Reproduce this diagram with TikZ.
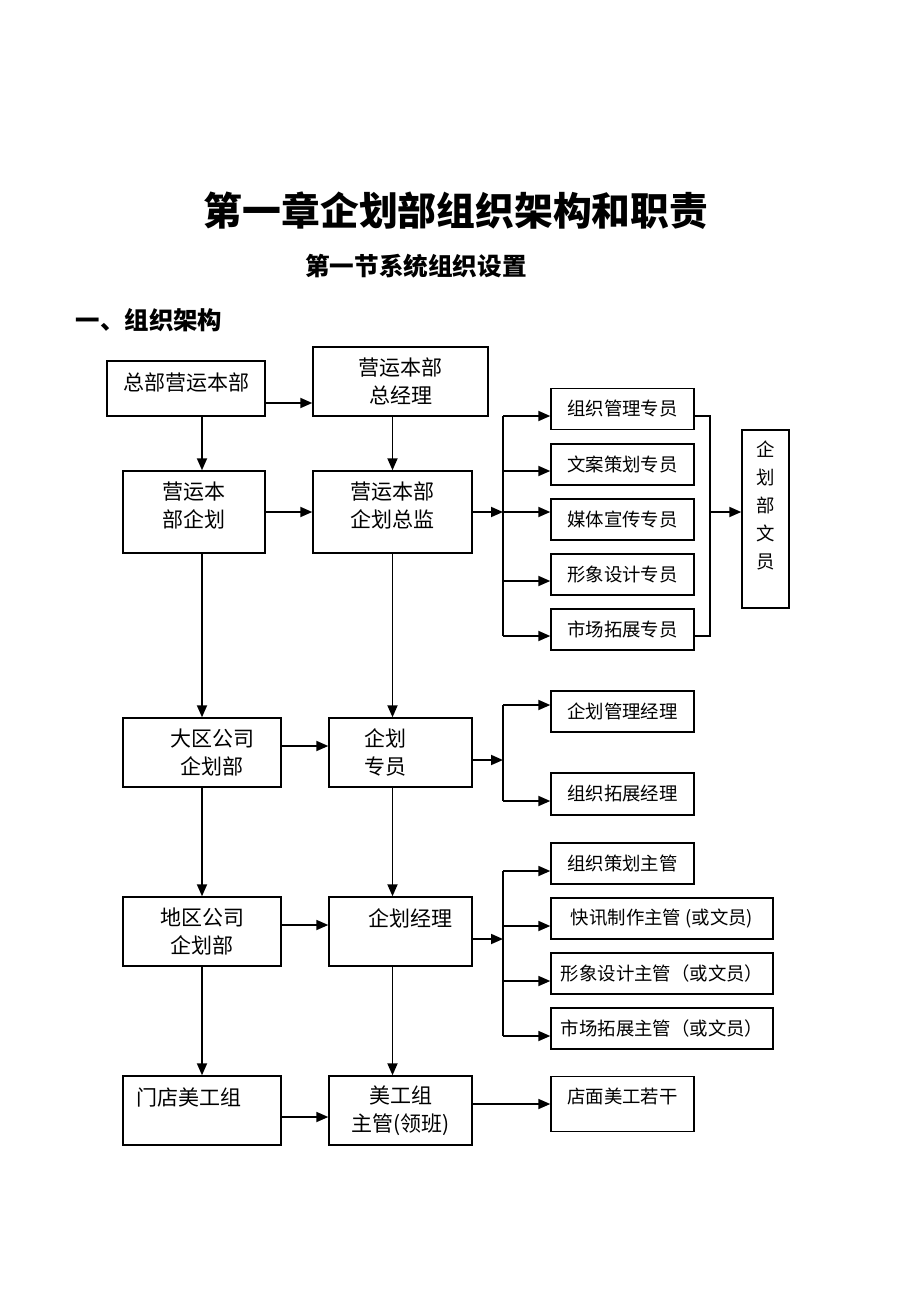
\documentclass[tikz,border=0pt]{standalone}
\usepackage{fontspec}
\setmainfont{Noto Sans CJK SC}
\usetikzlibrary{arrows.meta}

\tikzset{
  box/.style={draw, line width=0.7pt, inner sep=0pt, align=center,
    font=\fontsize{10.5}{14}\selectfont},
  post/.style={box, font=\fontsize{9.2}{14}\selectfont},
  wh/.style 2 args={minimum width=#1*0.5pt, minimum height=#2*0.5pt},
  lift/.style={text depth=#1},
  link/.style={line width=0.9pt, -{Triangle[length=6pt,width=5pt]}},
  trunk/.style={line width=0.9pt},
}

\begin{document}
\begin{tikzpicture}[x=0.5pt, y={(0pt,-0.5pt)}]
  \useasboundingbox (0,0) rectangle (920,1300);

  % Headings
  \node[font=\fontsize{19.4}{22}\selectfont\bfseries] (title) at (456,211) {第一章企划部组织架构和职责};
  \node[font=\fontsize{12.3}{14}\selectfont\bfseries] (sect) at (416,266) {第一节系统组织设置};
  \node[font=\fontsize{12.2}{14}\selectfont\bfseries] (head) at (149,320) {一、组织架构};

  % ---- Headquarters ----
  \node[box, wh={158}{55}, lift=7pt] (zbyy) at (186,388.5) {总部营运本部};
  \node[box, wh={175}{69}] (zjl) at (400.5,381.5) {营运本部\\总经理};
  \node[box, wh={142}{82}, lift=7pt] (yyqh) at (194,512) {营运本\\部企划};
  \node[box, wh={159}{82}, lift=7pt] (zj) at (392.5,512) {营运本部\\企划总监};

  % Specialists
  \node[post, wh={143}{41}] (zy1) at (622.5,409) {组织管理专员};
  \node[post, wh={143}{41}] (zy2) at (622.5,464.5) {文案策划专员};
  \node[post, wh={143}{41}] (zy3) at (622.5,519.5) {媒体宣传专员};
  \node[post, wh={143}{41}] (zy4) at (622.5,574.5) {形象设计专员};
  \node[post, wh={143}{41}] (zy5) at (622.5,629.5) {市场拓展专员};
  \node[post, wh={47}{178}, lift=14pt] (wy) at (765.5,519) {企\\划\\部\\文\\员};

  % ---- Region ----
  \node[box, wh={158}{69}] (dq) at (202,752.5) {\hspace*{10pt}大区公司\\\hspace*{10pt}企划部};
  \node[box, wh={143}{69}] (qhzy) at (400.5,752.5) {企划\hspace*{15pt}\\专员\hspace*{15pt}};
  \node[post, wh={143}{41}] (jl1) at (622.5,711.5) {企划管理经理};
  \node[post, wh={143}{42}] (jl2) at (622.5,794) {组织拓展经理};

  % ---- District ----
  \node[box, wh={158}{69}] (dqgs) at (202,931.5) {地区公司\\企划部};
  \node[box, wh={143}{69}, lift=14pt] (qhjl) at (400.5,931.5) {\hspace*{10pt}企划经理};
  \node[post, wh={143}{41}] (zg1) at (622.5,863.5) {组织策划主管};
  \node[post, wh={222}{41}] (zg2) at (662,918.5) {快讯制作主管 (或文员)};
  \node[post, wh={222}{41}] (zg3) at (662,973.5) {形象设计主管（或文员）};
  \node[post, wh={222}{41}] (zg4) at (662,1028.5) {市场拓展主管（或文员）};

  % ---- Store ----
  \node[box, wh={158}{69}, lift=14pt] (md) at (202,1110.5) {门店美工组\hspace*{13pt}};
  \node[box, wh={143}{69}] (mg) at (400.5,1110.5) {美工组\\主管(领班)};
  \node[post, wh={143}{55}, lift=8pt] (dm) at (622.5,1104) {店面美工若干};

  % Branch points
  \coordinate (fork1) at (503,512);
  \coordinate (fork2) at (503,760);
  \coordinate (fork3) at (503,939);
  \coordinate (join) at (710,512);

  % Top rows
  \draw[link] (zbyy.east |- 0,403) -- (zjl.west |- 0,403);
  \draw[link] (zbyy.south -| dq.north) -- (yyqh.north -| dq.north);
  \draw[link] (zjl.south -| zj.north) -- (zj.north);
  \draw[link] (yyqh.east) -- (zj.west);
  \draw[link] (zj.east) -- (fork1);
  \draw[trunk] (fork1 |- 0,416) -- (fork1 |- 0,636);
  \foreach \n/\y in {zy1/416, zy2/471, zy3/512, zy4/581, zy5/636}
    \draw[link] (fork1 |- 0,\y) -- (\n.west |- 0,\y);
  \draw[trunk] (zy1.east |- 0,416) -- (join |- 0,416) -- (join |- 0,636) -- (zy5.east |- 0,636);
  \draw[link] (join) -- (wy.west |- join);

  % Region row
  \draw[link] (yyqh.south -| dq.north) -- (dq.north);
  \draw[link] (zj.south) -- (qhzy.north -| zj.south);
  \draw[link] (dq.east |- 0,746) -- (qhzy.west |- 0,746);
  \draw[link] (qhzy.east |- fork2) -- (fork2);
  \draw[trunk] (fork2 |- 0,705) -- (fork2 |- 0,801);
  \foreach \n/\y in {jl1/705, jl2/801}
    \draw[link] (fork2 |- 0,\y) -- (\n.west |- 0,\y);

  % District row
  \draw[link] (dq.south) -- (dqgs.north);
  \draw[link] (qhzy.south -| zj.south) -- (qhjl.north -| zj.south);
  \draw[link] (dqgs.east |- 0,925) -- (qhjl.west |- 0,925);
  \draw[link] (qhjl.east |- fork3) -- (fork3);
  \draw[trunk] (fork3 |- 0,871) -- (fork3 |- 0,1036);
  \foreach \n/\y in {zg1/871, zg2/926, zg3/981, zg4/1036}
    \draw[link] (fork3 |- 0,\y) -- (\n.west |- 0,\y);

  % Store row
  \draw[link] (dqgs.south) -- (md.north);
  \draw[link] (qhjl.south -| zj.south) -- (mg.north -| zj.south);
  \draw[link] (md.east |- 0,1117) -- (mg.west |- 0,1117);
  \draw[link] (mg.east |- 0,1104) -- (dm.west |- 0,1104);
\end{tikzpicture}
\end{document}
